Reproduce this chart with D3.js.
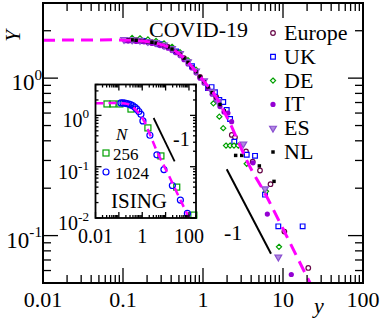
<!DOCTYPE html>
<html>
<head>
<meta charset="utf-8">
<script src="https://cdn.jsdelivr.net/npm/d3@7"></script>
<style>
body { margin: 0; background: #fff; }
</style>
</head>
<body>
<div class="chart"></div>
<script>
// COVID-19 main panel (y, Y)
var series = ["Europe", "UK", "DE", "IT", "ES", "NL"];

var data_Europe = [[0.146,1.74],[0.23,1.69],[0.366,1.58],[0.579,1.34],[0.918,1.02],[1.46,0.76],
  [2.29,0.436],[2.51,0.421],[3.45,0.342],[4.18,0.295],[5.16,0.259],[6.98,0.212],[10.4,0.106],[20.7,0.0623]];
var data_UK = [[0.183,1.72],[0.29,1.64],[0.46,1.48],[0.728,1.19],[1.155,0.864],[1.28,0.877],[1.41,0.815],
  [1.60,0.726],[1.79,0.705],[1.98,0.627],[2.18,0.55],[2.46,0.395],[3.52,0.326],[4.47,0.321],[5.96,0.182],
  [8.74,0.1145],[17.6,0.1145]];
var data_DE = [[0.13,1.80],[0.163,1.79],[0.205,1.76],[0.259,1.72],[0.326,1.66],[0.41,1.58],[0.516,1.46],
  [0.649,1.30],[0.818,1.13],[1.35,0.692],[1.60,0.569],[1.79,0.481],[1.94,0.373],[2.18,0.373],[2.44,0.373],
  [2.76,0.373],[3.52,0.286],[6.13,0.191],[8.91,0.0848]];
var data_IT = [[0.106,1.73],[0.116,1.72],[0.13,1.72],[0.146,1.71],[0.163,1.71],[0.183,1.70],[0.205,1.68],
  [0.23,1.66],[0.259,1.64],[0.29,1.61],[0.326,1.58],[0.366,1.55],[0.41,1.50],[0.46,1.45],[0.516,1.39],
  [0.579,1.31],[0.649,1.23],[0.728,1.16],[0.818,1.08],[0.918,1.00],[1.03,0.93],[1.156,0.86],[1.30,0.79],
  [1.46,0.73],[1.63,0.66],[1.83,0.61],[2.05,0.60],[2.28,0.529],[4.22,0.29],[6.37,0.137],[12.7,0.0566]];
var data_ES = [[0.103,1.76],[0.13,1.75],[0.163,1.74],[0.205,1.71],[0.259,1.68],[0.326,1.62],[0.41,1.54],
  [0.516,1.43],[0.649,1.27],[0.818,1.11],[1.03,0.96],[1.30,0.82],[1.54,0.708],[3.19,0.382],[5.96,0.198],
  [8.74,0.073]];
var data_NL = [[0.116,1.75],[0.13,1.75],[0.146,1.74],[0.163,1.73],[0.183,1.72],[0.205,1.70],[0.23,1.69],
  [0.259,1.67],[0.29,1.64],[0.326,1.61],[0.366,1.58],[0.41,1.53],[0.46,1.48],[0.516,1.42],[0.579,1.34],
  [0.649,1.26],[0.728,1.18],[0.818,1.10],[0.918,1.02],[1.03,0.95],[1.156,0.88],[1.30,0.81],[1.46,0.75],
  [1.63,0.68],[1.84,0.62],[2.56,0.323],[3.05,0.323],[5.06,0.277],[7.72,0.221]];
var data_curve = [[0.01,1.74],[0.079,1.75],[0.148,1.73],[0.237,1.68],[0.387,1.56],[0.562,1.36],[0.794,1.12],
  [1.11,0.91],[1.41,0.78],[1.79,0.627],[2.28,0.492],[2.64,0.415],[3.52,0.30],[6.25,0.177],[10.4,0.106],
  [20.7,0.0527],[40,0.0272]];
var data_slope = [[1.98,0.264],[7.08,0.0766]];

var x_ticks = [0.01, 0.1, 1, 10, 100];
var x_labels = ["0.01", "0.1", "1", "10", "100"];
var y_ticks = [0.1, 1];
var y_labels = ["-1", "0"];

// ISING inset
var ising_series = ["256", "1024"];
var data_256 = [[0.031,1.67],[0.056,1.67],[0.111,1.67],[0.33,1.33],[1.75,0.57],[6.3,0.162],[30,0.040],[162,0.0114]];
var data_1024 = [[0.123,1.75],[0.15,1.75],[0.182,1.73],[0.22,1.70],[0.27,1.66],[0.33,1.60],[0.40,1.54],
  [0.49,1.44],[0.59,1.32],[0.72,1.19],[0.88,1.05],[1.07,0.78],[2.13,0.41],[4.25,0.17],[8.46,0.088],
  [19.5,0.043],[42.9,0.0224],[85.5,0.0123]];
var data_ising_curve = [[0.01,1.72],[0.07,1.74],[0.18,1.71],[0.33,1.55],[0.65,1.15],[1.27,0.74],[2.07,0.44],
  [4.25,0.2],[13.6,0.068],[40,0.024],[100,0.01],[120,0.0083]];
var data_ising_slope = [[3.07,0.89],[24.3,0.127]];
var ix_ticks = [0.01, 1, 100];
var ix_labels = ["0.01", "1", "100"];
var iy_ticks = [0.01, 0.1, 1];
var iy_labels = ["-2", "-1", "0"];

var colors = {Europe: "#670748", UK: "#0000ff", DE: "#00a000", IT: "#9400d3", ES: "#8a4fd0", NL: "#000000"};

var svg = d3.select(".chart").append("svg")
  .attr("width", 382)
  .attr("height", 320)
  .attr("font-family", "'Liberation Serif', 'Times New Roman', 'DejaVu Serif', serif");

var x = d3.scaleLog().domain([0.01, 100]).range([43, 363]);
var y = d3.scaleLog().domain([0.05, 3]).range([283, 3]);
var xi = d3.scaleLog().domain([0.01, 200]).range([95.5, 196]);
var yi = d3.scaleLog().domain([0.01, 4]).range([218, 84.5]);

function isMajor(v) {
  var l = Math.log10(v);
  return Math.abs(l - Math.round(l)) < 1e-6;
}

// frame with ticks on all four sides
function frame(g, sx, sy, big, small, w) {
  var x0 = sx.range()[0], x1 = sx.range()[1], y0 = sy.range()[0], y1 = sy.range()[1];
  sx.ticks().forEach(function(v) {
    var len = isMajor(v) ? big : small;
    g.append("line").attr("x1", sx(v)).attr("x2", sx(v)).attr("y1", y0).attr("y2", y0 - len)
      .attr("stroke", "black").attr("stroke-width", 1.3);
    g.append("line").attr("x1", sx(v)).attr("x2", sx(v)).attr("y1", y1).attr("y2", y1 + len)
      .attr("stroke", "black").attr("stroke-width", 1.3);
  });
  sy.ticks().forEach(function(v) {
    var len = isMajor(v) ? big : small;
    g.append("line").attr("y1", sy(v)).attr("y2", sy(v)).attr("x1", x0).attr("x2", x0 + len)
      .attr("stroke", "black").attr("stroke-width", 1.3);
    g.append("line").attr("y1", sy(v)).attr("y2", sy(v)).attr("x1", x1).attr("x2", x1 - len)
      .attr("stroke", "black").attr("stroke-width", 1.3);
  });
  g.append("rect")
    .attr("x", x0).attr("y", y1)
    .attr("width", x1 - x0).attr("height", y0 - y1)
    .attr("fill", "none")
    .attr("stroke", "black")
    .attr("stroke-width", w);
}

function powLabel(g, xpos, ypos, sup, size) {
  var t = g.append("text")
    .attr("x", xpos).attr("y", ypos)
    .attr("text-anchor", "end")
    .style("font-size", size + "px");
  t.append("tspan").text("10");
  t.append("tspan").attr("dy", -size * 0.45).style("font-size", (size * 0.66) + "px").text(sup);
}

function marks(g, data, name, sx, sy) {
  var c = colors[name];
  var sel = g.selectAll(null).data(data).enter();
  if (name == "Europe") {
    sel.append("circle").attr("cx", d => sx(d[0])).attr("cy", d => sy(d[1])).attr("r", 2.3)
      .attr("fill", "white").attr("stroke", c).attr("stroke-width", 1.2);
  } else if (name == "IT") {
    sel.append("circle").attr("cx", d => sx(d[0])).attr("cy", d => sy(d[1])).attr("r", 2.6)
      .attr("fill", c);
  } else {
    var sym = {UK: d3.symbolSquare, DE: d3.symbolDiamond2, ES: d3.symbolTriangle, NL: d3.symbolSquare}[name];
    var size = {UK: 22, DE: 17, ES: 20, NL: 12}[name];
    sel.append("path")
      .attr("d", d3.symbol().type(sym).size(size))
      .attr("transform", d => "translate(" + sx(d[0]) + "," + sy(d[1]) + ")" + (name == "ES" ? " rotate(180)" : ""))
      .attr("fill", name == "NL" ? c : (name == "ES" ? "#b089e0" : "white"))
      .attr("stroke", c)
      .attr("stroke-width", name == "NL" ? 0 : 1.2);
  }
}

// ---------- main panel ----------
svg.append("clipPath").attr("id", "clipMain").append("rect")
  .attr("x", 43).attr("y", 3).attr("width", 320).attr("height", 280);

var main = svg.append("g");
var all = {Europe: data_Europe, UK: data_UK, DE: data_DE, IT: data_IT, ES: data_ES, NL: data_NL};
series.forEach(function(s) { marks(main, all[s], s, x, y); });

var line = d3.line().x(d => x(d[0])).y(d => y(d[1])).curve(d3.curveMonotoneX);
main.append("path")
  .datum(data_curve)
  .attr("d", line)
  .attr("clip-path", "url(#clipMain)")
  .attr("fill", "none")
  .attr("stroke", "#ff00ff")
  .attr("stroke-width", 3)
  .attr("stroke-dasharray", "12,7");

main.append("path")
  .datum(data_slope)
  .attr("d", d3.line().x(d => x(d[0])).y(d => y(d[1])))
  .attr("stroke", "black")
  .attr("stroke-width", 2);

main.append("text").attr("x", 224).attr("y", 240).style("font-size", "22px").text("-1");
main.append("text").attr("x", 149).attr("y", 37).style("font-size", "22px").text("COVID-19");

frame(svg, x, y, 15, 8, 2);

x_ticks.forEach(function(v, i) {
  svg.append("text")
    .attr("x", x(v)).attr("y", 307)
    .attr("text-anchor", "middle")
    .style("font-size", "22px")
    .text(x_labels[i]);
});
y_ticks.forEach(function(v, i) {
  powLabel(svg, 42, y(v) + 12, y_labels[i], 23);
});

svg.append("text")
  .attr("transform", "translate(20,36) rotate(-90)")
  .attr("text-anchor", "middle")
  .style("font-size", "21px")
  .style("font-style", "italic")
  .text("Y");
svg.append("text")
  .attr("x", 319).attr("y", 313)
  .attr("text-anchor", "middle")
  .style("font-size", "22px")
  .style("font-style", "italic")
  .text("y");

// legend
series.forEach(function(s, i) {
  var by = 40 + i * 23.8;
  var lg = svg.append("g");
  marks(lg, [[1, 1]], s, () => 273, () => by - 7);
  lg.append("text").attr("x", 284).attr("y", by).style("font-size", "22px").text(s);
});

// ---------- inset ----------
var inset = svg.append("g");
inset.append("rect").attr("x", 95.5).attr("y", 84.5).attr("width", 100.5).attr("height", 133.5).attr("fill", "white");

inset.selectAll(null).data(data_256).enter().append("rect")
  .attr("x", d => xi(d[0]) - 3).attr("y", d => yi(d[1]) - 3)
  .attr("width", 6).attr("height", 6)
  .attr("fill", "none").attr("stroke", "#00a000").attr("stroke-width", 1.2);
inset.selectAll(null).data(data_1024).enter().append("circle")
  .attr("cx", d => xi(d[0])).attr("cy", d => yi(d[1])).attr("r", 3)
  .attr("fill", "none").attr("stroke", "#0000ff").attr("stroke-width", 1.2);

svg.append("clipPath").attr("id", "clipInset").append("rect")
  .attr("x", 95.5).attr("y", 84.5).attr("width", 100.5).attr("height", 133.5);
inset.append("path")
  .datum(data_ising_curve)
  .attr("d", d3.line().x(d => xi(d[0])).y(d => yi(d[1])).curve(d3.curveMonotoneX))
  .attr("clip-path", "url(#clipInset)")
  .attr("fill", "none")
  .attr("stroke", "#ff00ff")
  .attr("stroke-width", 2.5)
  .attr("stroke-dasharray", "8,5");
inset.append("path")
  .datum(data_ising_slope)
  .attr("d", d3.line().x(d => xi(d[0])).y(d => yi(d[1])))
  .attr("stroke", "black")
  .attr("stroke-width", 1.8);
inset.append("text").attr("x", 173).attr("y", 146).style("font-size", "20px").text("-1");

frame(inset, xi, yi, 6, 3, 1.8);

ix_ticks.forEach(function(v, i) {
  inset.append("text")
    .attr("x", xi(v)).attr("y", 243)
    .attr("text-anchor", "middle")
    .style("font-size", "20px")
    .text(ix_labels[i]);
});
iy_ticks.forEach(function(v, i) {
  powLabel(inset, 89, yi(v) + 12, iy_labels[i], 20);
});

inset.append("text").attr("x", 116).attr("y", 140).style("font-size", "17px").style("font-style", "italic").text("N");
inset.append("rect").attr("x", 103).attr("y", 150).attr("width", 6).attr("height", 6)
  .attr("fill", "none").attr("stroke", "#00a000").attr("stroke-width", 1.2);
inset.append("text").attr("x", 113).attr("y", 159.5).style("font-size", "17px").text(ising_series[0]);
inset.append("circle").attr("cx", 106).attr("cy", 172).attr("r", 3)
  .attr("fill", "none").attr("stroke", "#0000ff").attr("stroke-width", 1.2);
inset.append("text").attr("x", 115).attr("y", 178.5).style("font-size", "17px").text(ising_series[1]);
inset.append("text").attr("x", 111).attr("y", 208).style("font-size", "21px").text("ISING");
</script>
</body>
</html>
